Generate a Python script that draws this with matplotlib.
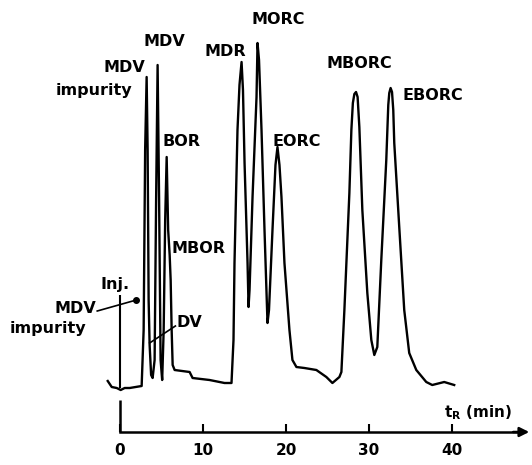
import matplotlib
matplotlib.use("Agg")
import matplotlib.pyplot as plt

# chromatogram trace: retention time (min) and detector response (arb.)
time_min = [
    -1.44, -0.96, -0.36, 0.12, 0.60, 1.20, 1.92, 2.64, 2.88, 3.06, 3.24, 3.36, 3.48, 3.60,
    3.78, 3.96, 4.20, 4.38, 4.56, 4.74, 4.92, 5.11, 5.29, 5.47, 5.65, 5.83, 6.01, 6.13,
    6.25, 6.37, 6.61, 8.41, 8.77, 10.81, 12.61, 13.45, 13.69, 13.81, 14.17, 14.41, 14.66,
    14.83, 15.02, 15.38, 15.50, 15.62, 15.98, 16.46, 16.58, 16.76, 17.06, 17.42, 17.78,
    17.96, 18.38, 18.74, 18.98, 19.22, 19.46, 19.82, 20.42, 20.78, 21.26, 22.22, 23.66,
    24.86, 25.59, 26.43, 26.67, 27.03, 27.63, 27.87, 28.05, 28.23, 28.43, 28.62, 28.83,
    29.19, 29.79, 30.27, 30.63, 30.99, 31.47, 32.07, 32.31, 32.43, 32.59, 32.76, 32.91,
    33.03, 33.63, 34.23, 34.83, 35.68, 36.88, 37.60, 39.04, 40.24,
]
response = [
    2, -4, -5, -7, -5, -5, -4, -3, 53, 233, 306, 233, 83, 38,
    8, 5, 23, 183, 318, 183, 23, 3, 53, 163, 226, 153, 128, 103,
    53, 18, 13, 11, 5, 3, 0, 0, 43, 120, 253, 298, 321,
    293, 220, 120, 76, 93, 186, 286, 340, 323, 253, 153, 60,
    73, 153, 218, 236, 218, 186, 120, 53, 23, 16, 15, 13,
    6, 0, 6, 11, 73, 190, 253, 280, 289, 291, 286, 256,
    173, 90, 43, 28, 36, 123, 223, 278, 290, 295, 291, 273,
    240, 156, 73, 30, 13, 1, -2, 1, -2,
]

peak_names = ["MDV", "impurity", "MDV", "BOR", "MBOR", "MDR", "MORC", "EORC", "MBORC", "EBORC", "DV"]
label_t = [0.6, -3.1, 5.4, 7.45, 9.5, 12.7, 19.1, 21.3, 28.8, 37.7, 8.4]
label_s = [316, 293, 341, 241, 135, 331, 363, 241, 319, 288, 61]

time_ticks = [0, 10, 20, 30, 40]
inj_time = 0.0

fig = plt.figure(figsize=(5.32, 4.65), dpi=100)
ax = fig.add_axes([0, 0, 1, 1])
ax.set_xlim(-14.4, 49.6)
ax.set_ylim(-82, 383)

txt = dict(fontfamily="DejaVu Sans", fontweight="bold", fontsize=11.5, ha="center", va="center")

ax.plot(time_min, response, color="black", lw=1.7, solid_joinstyle="round")

for name, t, s in zip(peak_names, label_t, label_s):
    ax.text(t, s, name, **txt)

# injection mark
ax.vlines(inj_time, -5, 88, color="black", lw=1.5)
ax.text(-0.6, 98, "Inj.", **txt)

# lower MDV impurity callout
ax.text(-5.3, 75, "MDV", **txt)
ax.text(-8.6, 55, "impurity", **txt)
ax.plot([-2.7, 2.0], [72, 83], color="black", lw=1.2)
ax.plot([2.0], [83], "o", color="black", ms=4)

# DV callout
ax.plot([6.7, 3.6], [57, 40], color="black", lw=1.2)

# time axis
for side in ["top", "left", "right"]:
    ax.spines[side].set_visible(False)
ax.spines["bottom"].set_position(("data", -49))
ax.spines["bottom"].set_bounds(0, 48)
ax.spines["bottom"].set_linewidth(1.8)
ax.set_yticks([])
ax.set_xticks(time_ticks)
ax.set_xticklabels([str(v) for v in time_ticks])
ax.tick_params(axis="x", direction="in", length=6, width=1.5, pad=8, labelsize=11)
for lab in ax.get_xticklabels():
    lab.set_fontweight("bold")
ax.vlines(0, -49, -17, color="black", lw=1.8)
ax.annotate("", xy=(49.6, -49), xytext=(47, -49),
            arrowprops=dict(arrowstyle="-|>", color="black", lw=1.8, mutation_scale=14))
ax.text(43.1, -30, r"$\mathbf{t_R}$ (min)", fontfamily="DejaVu Sans", fontweight="bold",
        fontsize=11, ha="center", va="center")

fig.savefig("out.png", dpi=100, facecolor="white")
